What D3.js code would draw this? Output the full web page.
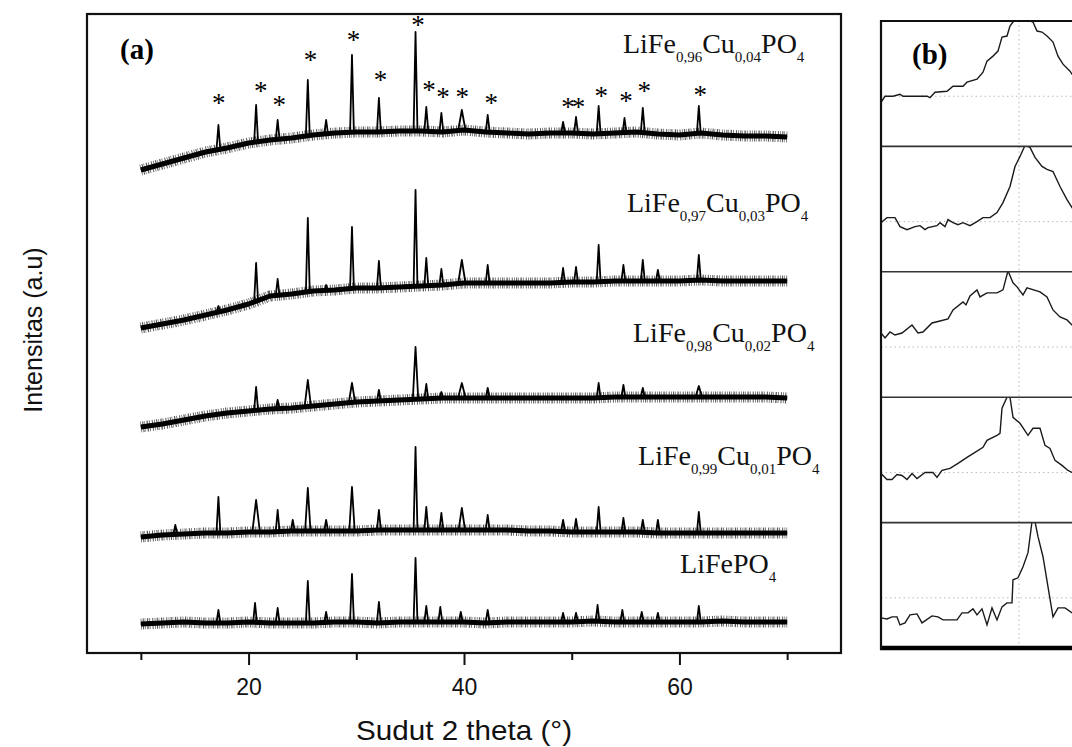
<!DOCTYPE html>
<html>
<head>
<meta charset="utf-8">
<script src="https://cdn.jsdelivr.net/npm/d3@7"></script>
<style>
  body { margin: 0; background: #fff; }
  svg { display: block; }
</style>
</head>
<body>
<svg id="chart" width="1072" height="747"></svg>
<script>
// ---- data (a): XRD patterns, stacked, intensity in a.u. ----
const ticksMajor = [20, 40, 60];
const ticksMinor = [10, 30, 50, 70];
const angles = [10,12,14,16,18,20,22,24,26,28,30,32,34,36,38,40,42,44,46,48,50,52,54,56,58,60,62,64,66,68,70];

// baseline level of each pattern at the angles above
const base04 = [483,489,495,501,505,510,513,515,518,520,521,521,522,522,521,523,521,520,519,520,520,519,520,521,519,518,520,518,517,517,516];
const base03 = [325,329,333,338,343,349,357,359,362,363,365,365,366,367,368,370,370,370,370,370,371,371,372,372,372,372,373,372,372,372,372];
const base02 = [226,229,233,237,240,242,244,245,247,249,251,252,253,254,255,255,255,255,255,255,255,255,256,256,256,256,256,256,256,256,255];
const base01 = [116,118,119,120,120,121,121,122,122,122,122,123,123,123,123,123,123,123,122,122,121,121,121,121,120,120,120,120,120,120,120];
const base00 = [29,30,31,30,30,31,30,30,30,31,31,30,31,31,31,31,30,31,31,31,31,32,31,31,31,31,31,32,31,31,31];

// peaks: [2theta, foot level, apex level, half width (optional)]
const peaks04 = [[17.2,503,528],[20.7,511,548],[22.7,513,533],[25.5,517,573],[27.2,519,533],[29.6,520,598],
  [32.1,521,555],[35.5,522,621],[36.5,522,546],[37.9,521,540],[39.8,522,543,0.35],[42.2,521,538],
  [49.2,520,531],[50.4,520,536],[52.5,519,547],[54.9,520,535],[56.6,521,545],[61.8,519,547]];
const peaks03 = [[17.2,341,347],[20.7,352,390],[22.7,357,374],[25.5,361,435],[27.2,362,368],[29.6,364,426],
  [32.1,365,392],[35.5,366,463],[36.5,367,395],[37.9,368,384],[39.8,369,393,0.35],[42.2,370,388],
  [49.2,370,385],[50.4,371,386],[52.5,371,408],[54.8,372,388],[56.6,372,393],[58.0,372,383],[61.8,373,398]];
const peaks02 = [[20.7,243,266],[22.7,244,253],[25.5,246,273,0.3],[29.6,250,270,0.3],[32.1,252,263],
  [35.5,254,306,0.25],[36.5,254,269],[37.9,255,261],[39.8,255,270,0.35],[42.2,255,265],
  [52.5,255,270],[54.8,256,268],[56.6,256,265],[61.8,256,267,0.3]];
const peaks01 = [[13.2,119,128],[17.2,120,156],[20.7,121,153,0.35],[22.7,121,143],[24.1,122,133],[25.5,122,165,0.25],
  [27.2,122,133],[29.6,122,166,0.25],[32.1,123,143],[35.5,123,206],[36.5,123,146],[37.9,123,140],
  [39.8,123,145,0.3],[42.2,123,138],[49.2,122,133],[50.4,121,134],[52.5,121,146],[54.8,121,135],
  [56.6,121,133],[58.0,120,133],[61.8,120,141]];
const peaks00 = [[17.2,30,43],[20.6,30,50],[22.7,30,45],[25.5,30,72],[27.2,30,41],[29.6,31,79],
  [32.1,31,51],[35.5,31,95],[36.5,31,47],[37.8,31,46],[39.7,31,41],[42.2,31,43],[49.2,31,40],
  [50.4,31,40],[52.4,31,48],[54.7,31,43],[56.5,31,41],[58.0,31,40],[61.8,31,47]];

// asterisks over the top pattern (the close pair near 50 is one "**")
const starPos = [17.1,21.0,22.7,25.6,29.6,32.1,35.6,36.6,37.9,39.7,42.4,50.0,52.6,54.9,56.6,61.8];
const starVal = [553,565,551,596,616,576,631,566,559,559,553,549,560,555,565,561];
const starText = ["*","*","*","*","*","*","*","*","*","*","*","**","*","*","*","*"];

// sample names (text part, is subscript) and where each name sits
const names = [
  [["LiFe",0],["0,96",1],["Cu",0],["0,04",1],["PO",0],["4",1]],
  [["LiFe",0],["0,97",1],["Cu",0],["0,03",1],["PO",0],["4",1]],
  [["LiFe",0],["0,98",1],["Cu",0],["0,02",1],["PO",0],["4",1]],
  [["LiFe",0],["0,99",1],["Cu",0],["0,01",1],["PO",0],["4",1]],
  [["LiFePO",0],["4",1]]
];
const nameAt = [[54.76,600],[55.13,441],[55.69,311],[56.16,188],[60.06,80]];

// ---- data (b): zoom on the main peak, one panel per sample ----
const zoom04 = [[34.12,0.88],[34.16,1.00],[34.24,1.00],[34.31,1.04],[34.34,1.00],[34.46,1.00],[34.58,1.00],[34.61,0.97],[34.66,1.08],[34.78,1.10],[34.84,1.20],[34.94,1.20],[34.98,1.28],[35.08,1.34],[35.14,1.48],[35.18,1.70],[35.24,1.80],[35.29,1.90],[35.33,2.18],[35.38,2.20],[35.41,2.40],[35.44,2.48],[35.48,2.56],[35.54,2.56],[35.64,2.48],[35.68,2.30],[35.73,2.28],[35.78,2.20],[35.84,2.08],[35.89,1.80],[35.94,1.64],[36.01,1.50],[36.03,1.44],[36.10,1.30]];
const zoom03 = [[34.12,0.98],[34.18,1.08],[34.26,1.08],[34.31,0.90],[34.38,0.84],[34.46,0.90],[34.51,0.92],[34.56,0.84],[34.59,0.88],[34.68,0.92],[34.71,0.98],[34.76,0.90],[34.79,1.04],[34.84,0.98],[34.89,0.94],[34.94,0.98],[35.01,0.92],[35.08,1.00],[35.14,1.08],[35.21,1.08],[35.28,1.18],[35.34,1.38],[35.41,1.70],[35.46,2.10],[35.51,2.30],[35.56,2.52],[35.61,2.48],[35.66,2.28],[35.73,2.10],[35.78,2.04],[35.84,2.00],[35.91,1.70],[35.98,1.44],[36.03,1.28],[36.10,1.10]];
const zoom02 = [[34.12,1.28],[34.16,1.18],[34.21,1.30],[34.26,1.24],[34.33,1.28],[34.43,1.44],[34.49,1.28],[34.54,1.30],[34.63,1.48],[34.71,1.52],[34.79,1.56],[34.84,1.74],[34.94,1.90],[34.97,1.84],[35.01,2.02],[35.08,2.14],[35.11,2.00],[35.18,2.08],[35.28,2.08],[35.34,2.14],[35.39,2.52],[35.44,2.28],[35.48,2.20],[35.54,2.04],[35.58,2.18],[35.71,2.10],[35.78,2.00],[35.84,1.74],[35.91,1.60],[35.98,1.54],[36.03,1.44],[36.10,1.35]];
const zoom01 = [[34.12,0.98],[34.18,0.86],[34.23,0.86],[34.28,0.96],[34.33,0.94],[34.38,0.86],[34.43,0.98],[34.48,0.88],[34.56,1.00],[34.64,1.00],[34.68,0.90],[34.73,1.04],[34.81,1.08],[34.89,1.18],[34.98,1.30],[35.06,1.40],[35.14,1.50],[35.18,1.64],[35.28,1.74],[35.31,1.78],[35.33,2.28],[35.38,2.50],[35.41,2.50],[35.44,2.10],[35.51,1.98],[35.59,1.74],[35.64,1.88],[35.71,1.88],[35.76,1.54],[35.81,1.48],[35.86,1.24],[35.93,1.14],[35.99,1.04],[36.03,1.00],[36.10,0.98]];
const zoom00 = [[34.12,0.60],[34.18,0.58],[34.23,0.62],[34.28,0.62],[34.31,0.46],[34.36,0.50],[34.41,0.66],[34.48,0.68],[34.53,0.50],[34.63,0.64],[34.69,0.62],[34.74,0.56],[34.88,0.56],[34.93,0.70],[34.99,0.70],[35.04,0.78],[35.08,0.66],[35.13,0.78],[35.18,0.46],[35.23,0.80],[35.28,0.56],[35.33,0.82],[35.38,0.90],[35.43,0.90],[35.44,1.36],[35.49,1.40],[35.54,1.62],[35.59,1.90],[35.63,2.52],[35.66,2.52],[35.69,2.22],[35.74,1.82],[35.79,1.22],[35.84,0.62],[35.89,0.80],[35.96,0.80],[36.03,0.70],[36.10,0.72]];

const series = [
  { base: base04, peaks: peaks04 },
  { base: base03, peaks: peaks03 },
  { base: base02, peaks: peaks02 },
  { base: base01, peaks: peaks01 },
  { base: base00, peaks: peaks00 }
];
const zooms = [zoom04, zoom03, zoom02, zoom01, zoom00];

// ---- drawing ----
const svg = d3.select("#chart");
const sans = "'Liberation Sans', Arial, sans-serif";
const serif = "'Liberation Serif', 'Times New Roman', serif";

const x = d3.scaleLinear([5, 75], [87, 841]);
const y = d3.scaleLinear([0, 639], [653, 14]);
const line = d3.line().x(d => x(d[0])).y(d => y(d[1]));

const gA = svg.append("g");

series.forEach(s => {
  const basePts = angles.map((a, i) => [a, s.base[i]]);
  // noisy band of the baseline: fuzzy fringe + solid core
  gA.append("path")
    .attr("d", line(basePts))
    .attr("fill", "none")
    .attr("stroke", "#111")
    .attr("stroke-width", 11)
    .attr("stroke-opacity", 0.7)
    .attr("stroke-dasharray", "0.7 1.3 1.1 0.9 0.6 1.7 1.3 1.1 0.8 2.1 1 1.4")
    .attr("stroke-linejoin", "round");
  gA.append("path")
    .attr("d", line(basePts))
    .attr("fill", "none")
    .attr("stroke", "#000")
    .attr("stroke-width", 5)
    .attr("stroke-linejoin", "round");

  const pts = basePts.filter(([a]) => !s.peaks.some(p => Math.abs(a - p[0]) <= (p[3] || 0.18)));
  s.peaks.forEach(p => {
    const w = p[3] || 0.18;
    pts.push([p[0] - w, p[1]], [p[0], p[2]], [p[0] + w, p[1]]);
  });
  pts.sort((a, b) => a[0] - b[0]);
  gA.append("path")
    .attr("d", line(pts))
    .attr("fill", "none")
    .attr("stroke", "#000")
    .attr("stroke-width", 1.8)
    .attr("stroke-linejoin", "round");
});

gA.append("g")
  .selectAll("text")
  .data(starPos)
  .join("text")
    .attr("x", d => x(d))
    .attr("y", (d, i) => y(starVal[i]) + 12)
    .attr("text-anchor", "middle")
    .attr("font-family", serif)
    .attr("font-size", 27)
    .attr("letter-spacing", -3)
    .text((d, i) => starText[i]);

names.forEach((parts, i) => {
  const t = gA.append("text")
    .attr("x", x(nameAt[i][0]))
    .attr("y", y(nameAt[i][1]))
    .attr("font-family", serif)
    .attr("font-size", 28)
    .attr("fill", "#111");
  let down = false;
  parts.forEach(([txt, sub]) => {
    const ts = t.append("tspan").text(txt);
    if (sub) {
      ts.attr("font-size", 15);
      if (!down) { ts.attr("dy", 9); down = true; }
    } else if (down) {
      ts.attr("dy", -9); down = false;
    }
  });
});

// frame (a)
gA.append("rect")
  .attr("x", 87).attr("y", 14)
  .attr("width", 754).attr("height", 639)
  .attr("fill", "none").attr("stroke", "#111").attr("stroke-width", 2.2);

const axMajor = gA.append("g")
  .attr("transform", "translate(0,653)")
  .call(d3.axisBottom(x).tickValues(ticksMajor).tickSize(12).tickPadding(14));
const axMinor = gA.append("g")
  .attr("transform", "translate(0,653)")
  .call(d3.axisBottom(x).tickValues(ticksMinor).tickSize(7).tickFormat(""));
[axMajor, axMinor].forEach(g => {
  g.select(".domain").remove();
  g.selectAll("line").attr("stroke", "#111").attr("stroke-width", 2);
});
axMajor.selectAll("text")
  .attr("font-family", sans)
  .attr("font-size", 23)
  .attr("fill", "#111");

gA.append("text")
  .attr("x", 464).attr("y", 740)
  .attr("text-anchor", "middle")
  .attr("font-family", sans)
  .attr("font-size", 28)
  .attr("textLength", 216)
  .attr("lengthAdjust", "spacingAndGlyphs")
  .attr("fill", "#111")
  .text("Sudut 2 theta (°)");

gA.append("text")
  .attr("transform", "translate(42,330) rotate(-90)")
  .attr("text-anchor", "middle")
  .attr("font-family", sans)
  .attr("font-size", 25)
  .attr("fill", "#111")
  .text("Intensitas (a.u)");

gA.append("text")
  .attr("x", 120).attr("y", 59)
  .attr("font-family", serif)
  .attr("font-weight", "bold")
  .attr("font-size", 29)
  .text("(a)");

// ---- panel (b) ----
const gB = svg.append("g");
const bx = d3.scaleLinear([34.12, 36.5], [881, 1119]);
const band = d3.scaleBand(d3.range(zooms.length), [21, 648]);

gB.append("line")
  .attr("x1", bx(35.5)).attr("x2", bx(35.5))
  .attr("y1", 21).attr("y2", 648)
  .attr("stroke", "#bbb").attr("stroke-dasharray", "1.5 3");

zooms.forEach((pts, i) => {
  const top = band(i), bot = top + band.bandwidth();
  const by = d3.scaleLinear([0, 2.5], [bot, top]);
  gB.append("clipPath").attr("id", "clip" + i)
    .append("rect").attr("x", 881).attr("y", top).attr("width", 300).attr("height", band.bandwidth());
  gB.append("line")
    .attr("x1", 881).attr("x2", 1072)
    .attr("y1", by(1)).attr("y2", by(1))
    .attr("stroke", "#bbb").attr("stroke-dasharray", "1.5 3");
  gB.append("path")
    .attr("clip-path", `url(#clip${i})`)
    .attr("d", d3.line().x(d => bx(d[0])).y(d => by(d[1]))(pts))
    .attr("fill", "none")
    .attr("stroke", "#1a1a1a")
    .attr("stroke-width", 1.4);
  if (i > 0) {
    gB.append("line")
      .attr("x1", 881).attr("x2", 1072)
      .attr("y1", top).attr("y2", top)
      .attr("stroke", "#333").attr("stroke-width", 1.6);
  }
});

gB.append("line").attr("x1", 881).attr("x2", 1072).attr("y1", 21).attr("y2", 21)
  .attr("stroke", "#111").attr("stroke-width", 2);
gB.append("line").attr("x1", 880).attr("x2", 1072).attr("y1", 648).attr("y2", 648)
  .attr("stroke", "#000").attr("stroke-width", 4.5);
gB.append("line").attr("x1", 881).attr("x2", 881).attr("y1", 20).attr("y2", 650)
  .attr("stroke", "#111").attr("stroke-width", 2.2);

gB.append("text")
  .attr("x", 912).attr("y", 64)
  .attr("font-family", serif)
  .attr("font-weight", "bold")
  .attr("font-size", 29)
  .text("(b)");
</script>
</body>
</html>
